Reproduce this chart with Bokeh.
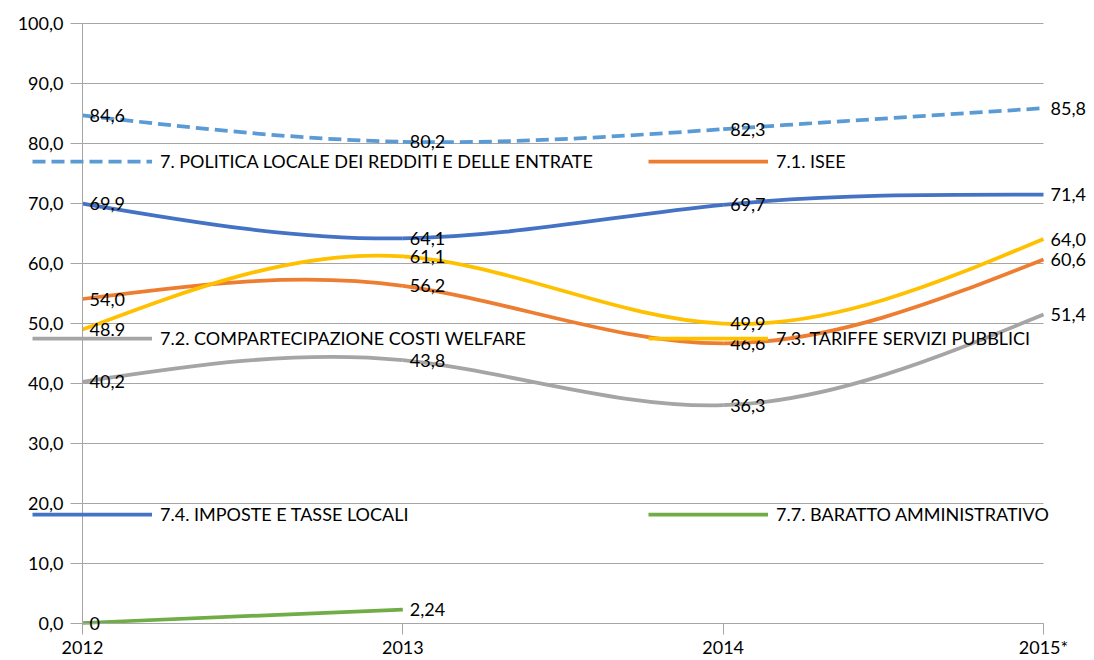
from bokeh.plotting import figure
from bokeh.models import (ColumnDataSource, LabelSet, Legend, LegendItem,
                          Range1d, FixedTicker, LinearAxis, Grid)
from bokeh.core.properties import value
from bokeh.embed import file_html
from bokeh.resources import INLINE

# ---------------- data ----------------
years = ["2012", "2013", "2014", "2015*"]
y_ticks = [0, 10, 20, 30, 40, 50, 60, 70, 80, 90, 100]

politica = [84.6, 80.2, 82.3, 85.8]
isee = [54.0, 56.2, 46.6, 60.6]
compartecipazione = [40.2, 43.8, 36.3, 51.4]
tariffe = [48.9, 61.1, 49.9, 64.0]
imposte = [69.9, 64.1, 69.7, 71.4]
baratto = [0.0, 2.24]

politica_lbl = ["84,6", "80,2", "82,3", "85,8"]
isee_lbl = ["54,0", "56,2", "46,6", "60,6"]
compartecipazione_lbl = ["40,2", "43,8", "36,3", "51,4"]
tariffe_lbl = ["48.9", "61,1", "49,9", "64,0"]
imposte_lbl = ["69,9", "64,1", "69,7", "71,4"]
baratto_lbl = ["0", "2,24"]

names = ["7. POLITICA LOCALE DEI REDDITI E DELLE ENTRATE",
         "7.1. ISEE",
         "7.2. COMPARTECIPAZIONE COSTI WELFARE",
         "7.3. TARIFFE SERVIZI PUBBLICI",
         "7.4. IMPOSTE E TASSE LOCALI",
         "7.7. BARATTO AMMINISTRATIVO"]

# ---------------- layout / style ----------------
W, H = 1090, 658
X0_PX, X3_PX = 82.0, 1043.0        # pixel positions of first / last category
Y0_PX, Y100_PX = 622.5, 22.5       # pixel positions of 0 and 100
KX = (X3_PX - X0_PX) / 3.0
KY = (Y0_PX - Y100_PX) / 100.0

FONT = "Lato"
FS = "18px"
GRID = "#A6A6A6"
LW = 3.75

series = [
    (names[0], politica, politica_lbl, "#5B9BD5", "13 6", (32, H - 172)),
    (names[1], isee, isee_lbl, "#ED7D31", "solid", (648, H - 172)),
    (names[2], compartecipazione, compartecipazione_lbl, "#A5A5A5", "solid", (32, H - 349)),
    (names[3], tariffe, tariffe_lbl, "#FFC000", "solid", (648, H - 349)),
    (names[4], imposte, imposte_lbl, "#4472C4", "solid", (32, H - 525)),
    (names[5], baratto, baratto_lbl, "#70AD47", "solid", (648, H - 525)),
]

x_range = Range1d(-X0_PX / KX, (W - X0_PX) / KX)
y_range = Range1d(-(H - Y0_PX) / KY, 100 + Y100_PX / KY)

p = figure(width=W, height=H, output_backend="svg", toolbar_location=None,
           x_range=x_range, y_range=y_range,
           x_axis_location=None, y_axis_location=None,
           min_border_left=0, min_border_right=0, min_border_top=0,
           min_border_bottom=0)
p.outline_line_color = None
p.background_fill_color = "white"
p.border_fill_color = "white"
p.xgrid.visible = False
p.ygrid.visible = False

grid = Grid(dimension=1, ticker=FixedTicker(ticks=y_ticks),
            grid_line_color=GRID, grid_line_width=1,
            bounds=(0, 100), cross_bounds=(0, len(years) - 1))
p.add_layout(grid)

yaxis = LinearAxis(fixed_location=0, bounds=(0, 100),
                   ticker=FixedTicker(ticks=y_ticks))
yaxis.major_label_overrides = {t: f"{t:.1f}".replace(".", ",") for t in y_ticks}
yaxis.major_tick_out = 12
yaxis.major_tick_in = 0
yaxis.major_label_standoff = 7
p.add_layout(yaxis, "left")

xaxis = LinearAxis(fixed_location=0, bounds=(0, len(years) - 1),
                   ticker=FixedTicker(ticks=list(range(len(years)))))
xaxis.major_label_overrides = {i: y for i, y in enumerate(years)}
xaxis.major_tick_out = 11
xaxis.major_tick_in = 0
xaxis.major_label_standoff = 2
p.add_layout(xaxis, "below")

for ax in (xaxis, yaxis):
    ax.axis_line_color = GRID
    ax.major_tick_line_color = GRID
    ax.minor_tick_line_color = None
    ax.major_label_text_font = FONT
    ax.major_label_text_font_size = FS
    ax.major_label_text_color = "black"


def natural_spline_M(vals):
    """Second derivatives of a natural cubic spline (unit spacing)."""
    n = len(vals)
    M = [0.0] * n
    if n < 3:
        return M
    m = n - 2
    a = [1.0] * m
    b = [4.0] * m
    c = [1.0] * m
    d = [6.0 * (vals[i] - 2 * vals[i + 1] + vals[i + 2]) for i in range(m)]
    for i in range(1, m):
        w = a[i] / b[i - 1]
        b[i] -= w * c[i - 1]
        d[i] -= w * d[i - 1]
    sol = [0.0] * m
    sol[-1] = d[-1] / b[-1]
    for i in range(m - 2, -1, -1):
        sol[i] = (d[i] - c[i] * sol[i + 1]) / b[i]
    for i in range(m):
        M[i + 1] = sol[i]
    return M


def bezier_parts(vals):
    """Exact Bezier form of each natural-spline segment."""
    M = natural_spline_M(vals)
    d = dict(x0=[], y0=[], x1=[], y1=[], cx0=[], cy0=[], cx1=[], cy1=[])
    for i in range(len(vals) - 1):
        dy = vals[i + 1] - vals[i]
        s0 = dy - (2 * M[i] + M[i + 1]) / 6.0
        s1 = dy + (M[i] + 2 * M[i + 1]) / 6.0
        d["x0"].append(i); d["y0"].append(vals[i])
        d["x1"].append(i + 1); d["y1"].append(vals[i + 1])
        d["cx0"].append(i + 1 / 3); d["cy0"].append(vals[i] + s0 / 3)
        d["cx1"].append(i + 2 / 3); d["cy1"].append(vals[i + 1] - s1 / 3)
    return d


renderers = []
for name, vals, lbls, color, dash, loc in series:
    src = ColumnDataSource(bezier_parts(vals))
    r = p.bezier(x0="x0", y0="y0", x1="x1", y1="y1", cx0="cx0", cy0="cy0",
                 cx1="cx1", cy1="cy1", source=src, line_color=color,
                 line_width=LW, line_dash=dash)
    renderers.append(r)

for name, vals, lbls, color, dash, loc in series:
    lsrc = ColumnDataSource(dict(x=list(range(len(vals))), y=vals, t=lbls))
    p.add_layout(LabelSet(x="x", y="y", text="t", source=lsrc, x_offset=7,
                          text_align="left", text_baseline="middle",
                          text_font=value(FONT), text_font_size=value(FS),
                          text_color="black"))

for (name, vals, lbls, color, dash, loc), r in zip(series, renderers):
    lg = Legend(items=[LegendItem(label=name, renderers=[r])], location=loc,
                border_line_color=None, background_fill_alpha=0,
                padding=0, margin=0, glyph_width=120, glyph_height=20,
                label_standoff=8, label_text_font=FONT,
                label_text_font_size=FS, label_text_color="black")
    p.add_layout(lg, "center")

open("out.html", "w").write(file_html(p, INLINE))
